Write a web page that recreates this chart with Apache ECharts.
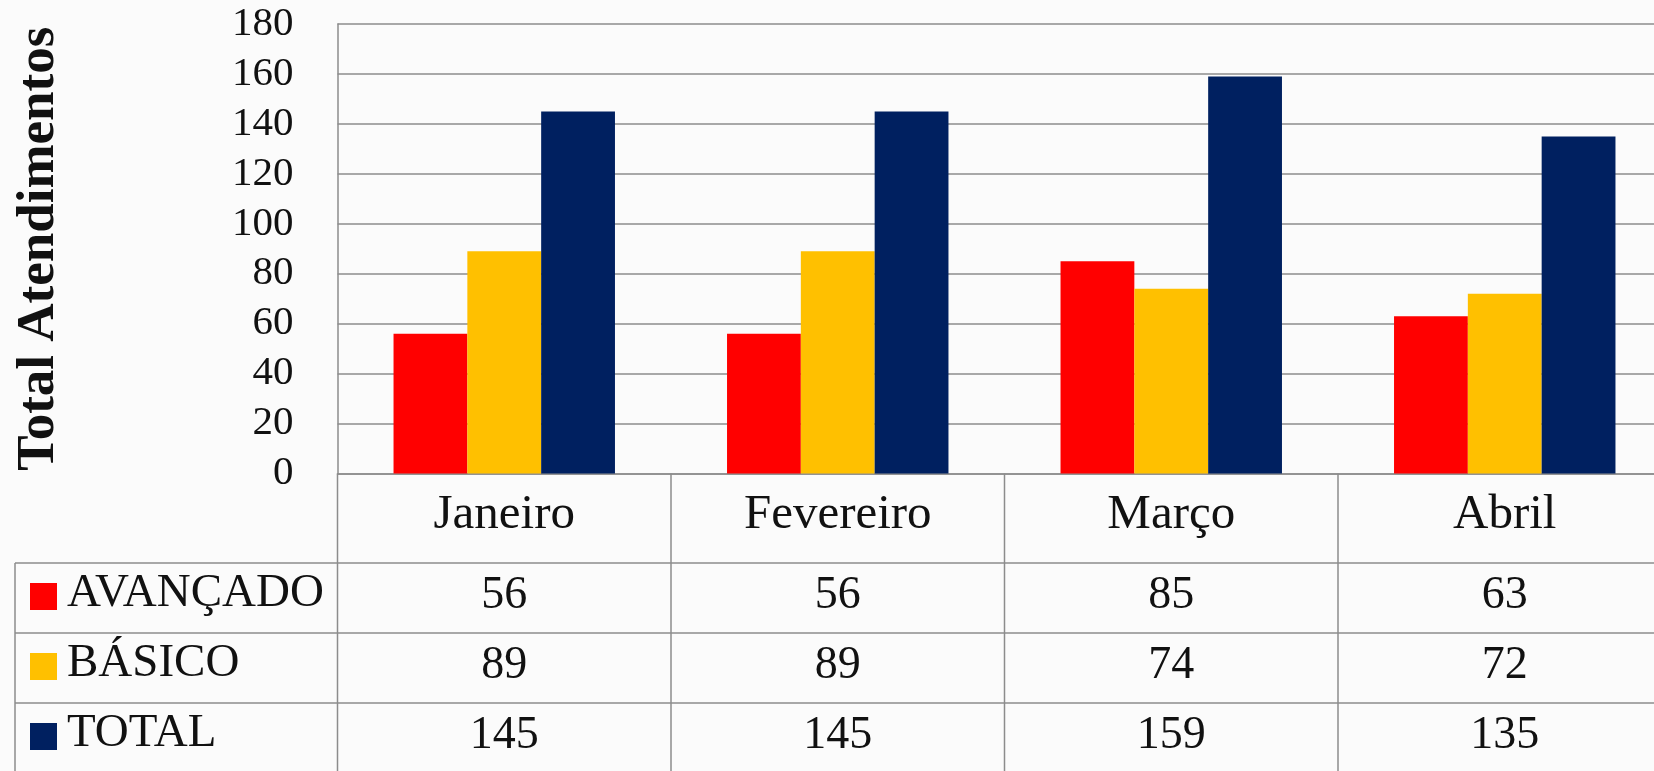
<!DOCTYPE html>
<html>
<head>
<meta charset="utf-8">
<script src="https://cdn.jsdelivr.net/npm/echarts@6/dist/echarts.min.js"></script>
<style>
html,body{margin:0;padding:0;background:#fbfbfb;overflow:hidden;}
#chart{width:1654px;height:771px;}
</style>
</head>
<body>
<div id="chart"></div>
<script>
var categories = ['Janeiro', 'Fevereiro', 'Março', 'Abril'];
var seriesNames = ['AVANÇADO', 'BÁSICO', 'TOTAL'];
var avancado = [56, 56, 85, 63];
var basico = [89, 89, 74, 72];
var total = [145, 145, 159, 135];
var yTicks = [0, 20, 40, 60, 80, 100, 120, 140, 160, 180];
var colors = ['#FF0000', '#FFC000', '#002060'];

var FONT = '"Liberation Serif", "Times New Roman", serif';
var chart = echarts.init(document.getElementById('chart'));
var seriesData = [avancado, basico, total];

var option = {
  backgroundColor: '#fbfbfb',
  animation: false,
  grid: { left: 337.5, top: 24, width: 1334, height: 449.5, containLabel: false, outerBoundsMode: 'none' },
  xAxis: {
    type: 'category',
    data: categories,
    axisLine: { show: true, lineStyle: { color: '#8c8c8c', width: 1.5 } },
    axisTick: { show: false },
    axisLabel: { show: false }
  },
  yAxis: {
    type: 'value',
    min: yTicks[0],
    max: yTicks[yTicks.length - 1],
    interval: 20,
    name: 'Total Atendimentos',
    nameLocation: 'middle',
    nameGap: 272,
    nameTextStyle: { fontFamily: FONT, fontSize: 53, fontWeight: 'bold', color: '#111' },
    axisLine: { show: true, lineStyle: { color: '#8c8c8c', width: 1.5 } },
    axisTick: { show: false },
    splitLine: { show: true, lineStyle: { color: '#8c8c8c', width: 1.5 } },
    axisLabel: { fontFamily: FONT, fontSize: 41, color: '#111', margin: 44 }
  },
  series: seriesNames.map(function (n, i) {
    return {
      name: n,
      type: 'bar',
      data: seriesData[i],
      barGap: '0%',
      barCategoryGap: '33.6%',
      itemStyle: { color: colors[i] }
    };
  })
};
chart.setOption(option);

// Data table built from the arrays
var centers = categories.map(function (c) { return chart.convertToPixel({ xAxisIndex: 0 }, c); });
var band = centers[1] - centers[0];
var axisX = centers[0] - band / 2;
var axisY = chart.convertToPixel({ yAxisIndex: 0 }, 0);
var headerBottom = 563, rowH = 70, tableLeft = 15, bottom = 771, rightEdge = 1654;
var lineColor = '#8c8c8c';
var g = [];
function line(x1, y1, x2, y2) {
  g.push({ type: 'line', shape: { x1: x1, y1: y1, x2: x2, y2: y2 }, style: { stroke: lineColor, lineWidth: 1.5 }, silent: true });
}
// verticals
line(axisX, axisY, axisX, bottom);
centers.forEach(function (c) { line(c + band / 2, axisY, c + band / 2, bottom); });
line(tableLeft, headerBottom, tableLeft, bottom);
// horizontals
for (var r = 0; r <= seriesNames.length; r++) {
  line(tableLeft, headerBottom + r * rowH, rightEdge, headerBottom + r * rowH);
}
// header labels
centers.forEach(function (c, i) {
  g.push({ type: 'text', x: c, y: 515.5, style: { text: categories[i], font: '49px ' + FONT, fill: '#111', align: 'center', verticalAlign: 'middle' }, silent: true });
});
// rows
seriesNames.forEach(function (n, r) {
  var cy = headerBottom + r * rowH + rowH / 2;
  g.push({ type: 'rect', shape: { x: 30, y: cy - 1.5 - 13.5, width: 27, height: 27 }, style: { fill: colors[r] }, silent: true });
  g.push({ type: 'text', x: 67, y: cy - 4, style: { text: n, font: '47px ' + FONT, fill: '#111', align: 'left', verticalAlign: 'middle' }, silent: true });
  centers.forEach(function (c, i) {
    g.push({ type: 'text', x: c, y: cy - 2, style: { text: String(seriesData[r][i]), font: '46px ' + FONT, fill: '#111', align: 'center', verticalAlign: 'middle' }, silent: true });
  });
});
chart.setOption({ graphic: g });
</script>
</body>
</html>
